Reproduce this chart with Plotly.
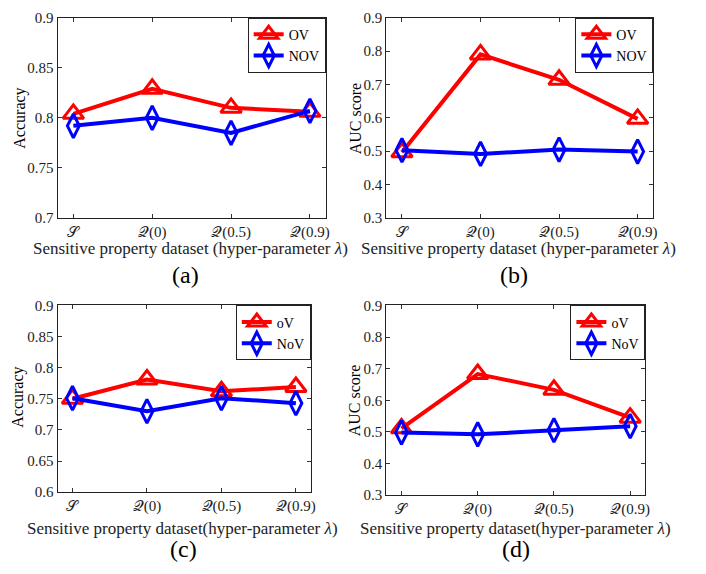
import plotly.graph_objects as go

W, H = 706, 574

categories = ["𝒮", "𝒬(0)", "𝒬(0.5)", "𝒬(0.9)"]
xpos = [1, 2, 3, 4]

ov_a = [0.804, 0.829, 0.810, 0.806]
nov_a = [0.792, 0.800, 0.785, 0.807]
ov_b = [0.497, 0.790, 0.714, 0.597]
nov_b = [0.503, 0.492, 0.505, 0.499]
ov_c = [0.750, 0.781, 0.762, 0.769]
nov_c = [0.751, 0.730, 0.751, 0.743]
ov_d = [0.511, 0.683, 0.633, 0.545]
nov_d = [0.498, 0.492, 0.505, 0.518]

yticks_a = [0.7, 0.75, 0.8, 0.85, 0.9]
yticks_b = [0.3, 0.4, 0.5, 0.6, 0.7, 0.8, 0.9]
yticks_c = [0.6, 0.65, 0.7, 0.75, 0.8, 0.85, 0.9]
yticks_d = [0.3, 0.4, 0.5, 0.6, 0.7, 0.8, 0.9]

names_top = ["OV", "NOV"]
names_bot = ["oV", "NoV"]

RED = "#ff0000"
BLUE = "#0000ff"
SERIF = "Liberation Serif"

# panel boxes in pixels: (left, right, top, bottom)
panels = [
    dict(box=(58, 328, 10, 216), ov=ov_a, nov=nov_a, yt=yticks_a, names=names_top,
         ytitle="Accuracy", ytx=20, yty=113,
         xtitle="Sensitive property dataset (hyper-parameter <i>λ</i>)", xtx=192, xty=247,
         lab="(a)", labx=187, laby=275, leg=(268, 328, 10, 57)),
    dict(box=(389, 658, 10, 216), ov=ov_b, nov=nov_b, yt=yticks_b, names=names_top,
         ytitle="AUC score", ytx=358, yty=113,
         xtitle="Sensitive property dataset (hyper-parameter <i>λ</i>)", xtx=522, xty=247,
         lab="(b)", labx=518, laby=275, leg=(598, 658, 10, 56)),
    dict(box=(58, 313, 306, 498), ov=ov_c, nov=nov_c, yt=yticks_c, names=names_bot,
         ytitle="Accuracy", ytx=18, yty=400,
         xtitle="Sensitive property dataset(hyper-parameter <i>λ</i>)", xtx=184, xty=535,
         lab="(c)", labx=185, laby=557, leg=(257, 313, 306, 347)),
    dict(box=(389, 650, 306, 501), ov=ov_d, nov=nov_d, yt=yticks_d, names=names_bot,
         ytitle="AUC score", ytx=357, yty=403,
         xtitle="Sensitive property dataset(hyper-parameter <i>λ</i>)", xtx=519, xty=535,
         lab="(d)", labx=520, laby=557, leg=(592, 650, 306, 347)),
]

fig = go.Figure()
annotations = []
layout = {}

for i, p in enumerate(panels):
    n = i + 1
    sfx = "" if n == 1 else str(n)
    xa, ya = "x" + sfx, "y" + sfx
    lg = "legend" + sfx
    l, r, t, b = p["box"]
    fig.add_trace(go.Scatter(
        x=xpos, y=p["ov"], name=p["names"][0], mode="lines+markers",
        line=dict(color=RED, width=4),
        marker=dict(symbol="triangle-up-open", size=18, color=RED, line=dict(width=3, color=RED)),
        xaxis=xa, yaxis=ya, legend=lg))
    fig.add_trace(go.Scatter(
        x=xpos, y=p["nov"], name=p["names"][1], mode="lines+markers",
        line=dict(color=BLUE, width=4),
        marker=dict(symbol="diamond-tall-open", size=17, color=BLUE, line=dict(width=3, color=BLUE)),
        xaxis=xa, yaxis=ya, legend=lg))
    yt = p["yt"]
    common = dict(showline=True, linecolor="#222", linewidth=1, mirror="allticks",
                  ticks="inside", ticklen=4, tickcolor="#333", showgrid=False, zeroline=False,
                  tickfont=dict(family=SERIF, size=15, color="#222"))
    layout["xaxis" + sfx] = dict(domain=[l / W, r / W], anchor=ya, range=[0.8, 4.2],
                                 tickvals=xpos, ticktext=categories, **common)
    layout["yaxis" + sfx] = dict(domain=[1 - b / H, 1 - t / H], anchor=xa,
                                 range=[yt[0], yt[-1]], tickvals=yt,
                                 ticktext=[f"{v:g}" for v in yt], **common)
    ll, lr, lt, lb = p["leg"]
    layout[lg] = dict(x=lr / W, y=1 - lt / H, xanchor="right", yanchor="top",
                      bgcolor="white", bordercolor="#222", borderwidth=1,
                      font=dict(family=SERIF, size=14, color="black"),
                      itemwidth=30, tracegroupgap=0)
    annotations.append(dict(text=p["ytitle"], x=p["ytx"] / W, y=1 - p["yty"] / H,
                            xref="paper", yref="paper", showarrow=False, textangle=-90,
                            xanchor="center", yanchor="middle",
                            font=dict(family=SERIF, size=16, color="black")))
    annotations.append(dict(text=p["xtitle"], x=p["xtx"] / W, y=1 - p["xty"] / H,
                            xref="paper", yref="paper", showarrow=False,
                            xanchor="center", yanchor="middle",
                            font=dict(family=SERIF, size=17, color="#222")))
    annotations.append(dict(text=p["lab"], x=p["labx"] / W, y=1 - p["laby"] / H,
                            xref="paper", yref="paper", showarrow=False,
                            xanchor="center", yanchor="middle",
                            font=dict(family=SERIF, size=24, color="black")))

fig.update_layout(width=W, height=H, margin=dict(l=0, r=0, t=0, b=0),
                  paper_bgcolor="white", plot_bgcolor="white",
                  font=dict(family=SERIF),
                  annotations=annotations, **layout)

fig.write_html("out.html")
